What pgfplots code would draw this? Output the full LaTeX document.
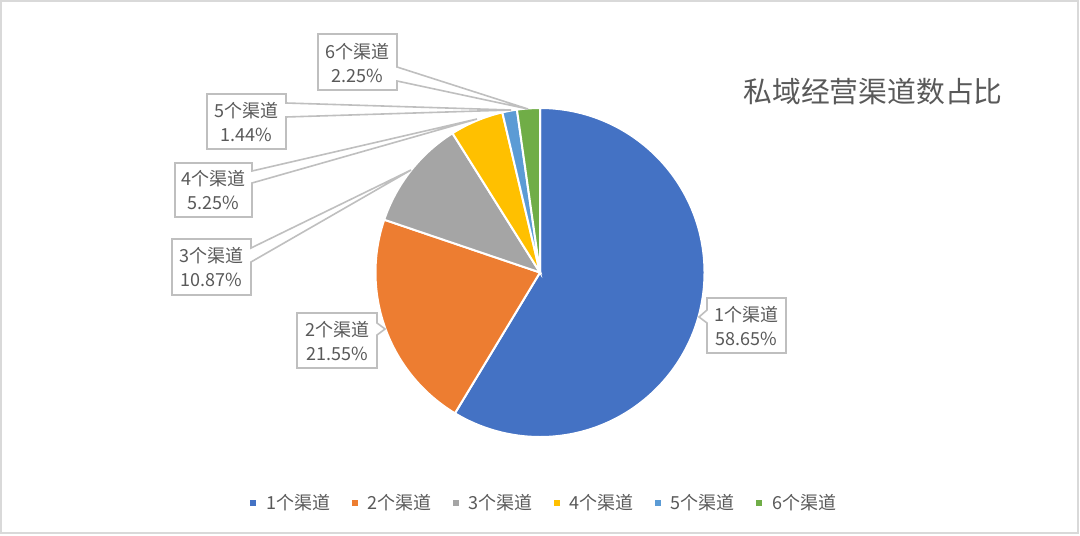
\documentclass[border=0pt]{standalone}
\usepackage{pgfplots}
\pgfplotsset{compat=1.18}
\usepackage{fontspec}
\setmainfont{Noto Sans CJK SC}

\definecolor{c1}{HTML}{4472C4}
\definecolor{c2}{HTML}{ED7D31}
\definecolor{c3}{HTML}{A5A5A5}
\definecolor{c4}{HTML}{FFC000}
\definecolor{c5}{HTML}{5B9BD5}
\definecolor{c6}{HTML}{70AD47}
\definecolor{txt}{HTML}{595959}
\definecolor{lead}{HTML}{BFBFBF}
\definecolor{frame}{HTML}{D9D9D9}

% shares in percent
\def\vA{58.65}
\def\vB{21.55}
\def\vC{10.87}
\def\vD{5.25}
\def\vE{1.44}
\def\vF{2.25}

\pgfmathsetmacro\aA{90}
\pgfmathsetmacro\aB{\aA-3.6*\vA}
\pgfmathsetmacro\aC{\aB-3.6*\vB}
\pgfmathsetmacro\aD{\aC-3.6*\vC}
\pgfmathsetmacro\aE{\aD-3.6*\vD}
\pgfmathsetmacro\aF{\aE-3.6*\vE}
\pgfmathsetmacro\aG{\aF-3.6*\vF}

\def\R{82.25pt}
\tikzset{
  slice/.style={draw=white, line width=1pt},
  callout/.style={draw=lead, fill=white, line width=0.8pt, line join=miter},
  lbl/.style={align=center, text=txt, font=\fontsize{9}{12}\selectfont, inner sep=0pt},
}

\begin{document}
\begin{tikzpicture}
\path[use as bounding box] (0,0) rectangle (540pt,267.5pt);
\begin{axis}[
  at={(0,0)}, anchor=south west,
  width=540pt, height=267.5pt, scale only axis,
  xmin=0, xmax=1080, ymin=0, ymax=535, y dir=reverse,
  hide axis, clip=false,
  legend columns=6,
  legend style={at={(0.503,0.0598)}, anchor=center, draw=none, fill=none,
    font=\fontsize{9}{11}\selectfont, text=txt, inner sep=0pt,
    nodes={inner sep=0pt},
    /tikz/every odd column/.append style={column sep=5pt},
    /tikz/every even column/.append style={column sep=10.7pt}},
]
% pie slices, clockwise from 12 o'clock
\fill[c1, slice] (axis cs:540,272.5) -- ++(\aA:\R) arc[start angle=\aA, end angle=\aB, radius=\R] -- cycle;
\fill[c2, slice] (axis cs:540,272.5) -- ++(\aB:\R) arc[start angle=\aB, end angle=\aC, radius=\R] -- cycle;
\fill[c3, slice] (axis cs:540,272.5) -- ++(\aC:\R) arc[start angle=\aC, end angle=\aD, radius=\R] -- cycle;
\fill[c4, slice] (axis cs:540,272.5) -- ++(\aD:\R) arc[start angle=\aD, end angle=\aE, radius=\R] -- cycle;
\fill[c5, slice] (axis cs:540,272.5) -- ++(\aE:\R) arc[start angle=\aE, end angle=\aF, radius=\R] -- cycle;
\fill[c6, slice] (axis cs:540,272.5) -- ++(\aF:\R) arc[start angle=\aF, end angle=\aG, radius=\R] -- cycle;

% data label callouts
\draw[callout] (axis cs:318,34) -- (axis cs:397,34) -- (axis cs:397,67) -- (axis cs:528,109)
  -- (axis cs:397,81) -- (axis cs:397,90) -- (axis cs:318,90) -- cycle;
\draw[callout] (axis cs:207,94) -- (axis cs:286,94) -- (axis cs:286,103) -- (axis cs:511,110)
  -- (axis cs:286,117) -- (axis cs:286,149) -- (axis cs:207,149) -- cycle;
\draw[callout] (axis cs:175,163) -- (axis cs:252,163) -- (axis cs:252,171) -- (axis cs:477,119)
  -- (axis cs:252,183) -- (axis cs:252,217) -- (axis cs:175,217) -- cycle;
\draw[callout] (axis cs:172,239) -- (axis cs:251,239) -- (axis cs:251,248) -- (axis cs:411,170)
  -- (axis cs:251,262) -- (axis cs:251,295) -- (axis cs:172,295) -- cycle;
\draw[callout] (axis cs:297,313) -- (axis cs:377,313) -- (axis cs:377,323) -- (axis cs:385,329)
  -- (axis cs:377,335) -- (axis cs:377,368) -- (axis cs:297,368) -- cycle;
\draw[callout] (axis cs:707,298) -- (axis cs:786,298) -- (axis cs:786,353) -- (axis cs:707,353)
  -- (axis cs:707,323) -- (axis cs:699,317) -- (axis cs:707,310) -- cycle;

\node[lbl] at (axis cs:357.5,63) {6个渠道\\2.25\%};
\node[lbl] at (axis cs:246.5,122) {5个渠道\\1.44\%};
\node[lbl] at (axis cs:213.5,190.5) {4个渠道\\5.25\%};
\node[lbl] at (axis cs:211.5,267.5) {3个渠道\\10.87\%};
\node[lbl] at (axis cs:337,341) {2个渠道\\21.55\%};
\node[lbl] at (axis cs:746.5,326) {1个渠道\\58.65\%};

\node[text=txt, font=\fontsize{14.4}{17}\selectfont] at (axis cs:873,92) {私域经营渠道数占比};

\addlegendimage{legend image code/.code={\fill[c1] (0pt,-1.25pt) rectangle (2.5pt,1.25pt);}}
\addlegendentry{1个渠道}
\addlegendimage{legend image code/.code={\fill[c2] (0pt,-1.25pt) rectangle (2.5pt,1.25pt);}}
\addlegendentry{2个渠道}
\addlegendimage{legend image code/.code={\fill[c3] (0pt,-1.25pt) rectangle (2.5pt,1.25pt);}}
\addlegendentry{3个渠道}
\addlegendimage{legend image code/.code={\fill[c4] (0pt,-1.25pt) rectangle (2.5pt,1.25pt);}}
\addlegendentry{4个渠道}
\addlegendimage{legend image code/.code={\fill[c5] (0pt,-1.25pt) rectangle (2.5pt,1.25pt);}}
\addlegendentry{5个渠道}
\addlegendimage{legend image code/.code={\fill[c6] (0pt,-1.25pt) rectangle (2.5pt,1.25pt);}}
\addlegendentry{6个渠道}
\end{axis}
\draw[frame, line width=1.2pt] (0.6pt,0.9pt) rectangle (539.1pt,266.9pt);
\end{tikzpicture}
\end{document}
